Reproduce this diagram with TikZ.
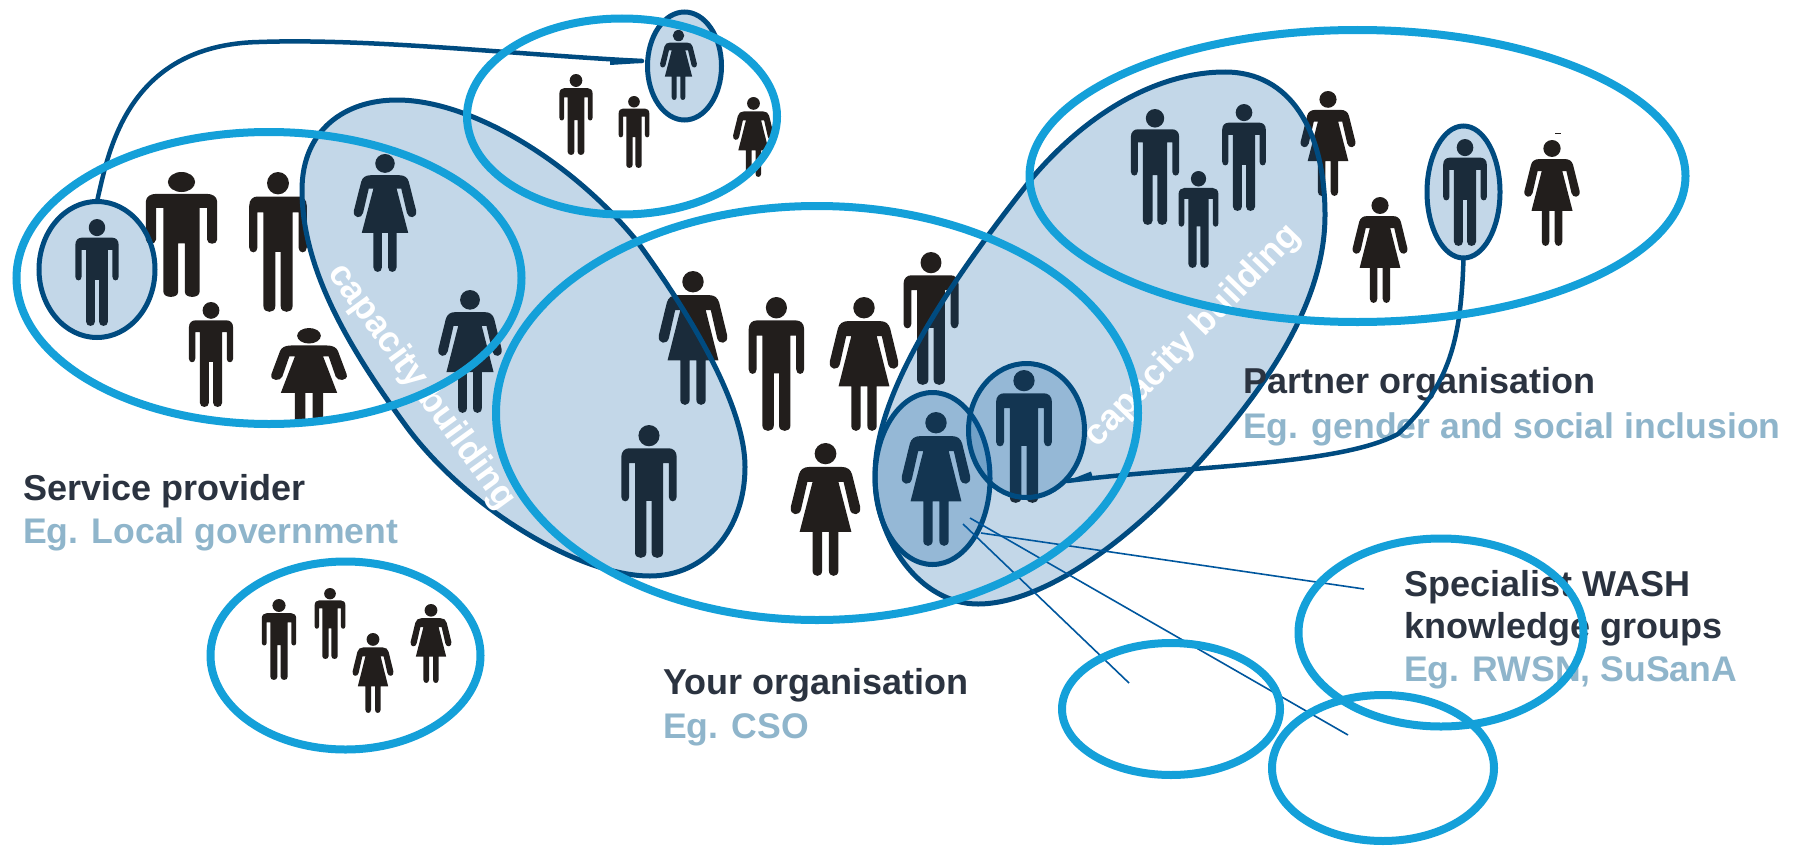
\documentclass[tikz,border=0pt]{standalone}
\usepackage{fontspec}
\setmainfont{Liberation Sans}
\usetikzlibrary{shapes.geometric}
\definecolor{ink}{HTML}{221E1C}
\definecolor{ringblue}{HTML}{14A0D9}
\definecolor{navy}{HTML}{004B80}
\definecolor{veil}{HTML}{00579E}
\definecolor{head}{HTML}{2B3340}
\definecolor{sub}{HTML}{8FB5CB}
\tikzset{
  ring/.style={ellipse,draw=ringblue,line width=8pt,inner sep=0pt,outer sep=0pt},
  groupring/.style={ellipse,draw=navy,line width=5pt,fill=veil,fill opacity=.235,inner sep=0pt,outer sep=0pt},
  blob/.style={draw=navy,line width=5pt,fill=veil,fill opacity=.235},
  link/.style={draw=navy,line width=4.5pt,line cap=round},
  thinlink/.style={draw=veil,line width=1.6pt},
  titletext/.style={anchor=base west,inner sep=0pt,font=\bfseries\fontsize{36}{36}\selectfont,text=head},
  exampletext/.style={anchor=base west,inner sep=0pt,font=\bfseries\fontsize{35.6}{36}\selectfont,text=sub},
  capword/.style={inner sep=0pt,font=\bfseries\fontsize{36}{36}\selectfont,text=white},
}
% #1 centre x, #2 top y, #3 height, #4 width scale
\newcommand{\manfig}[4]{%
\begin{scope}[shift={(#1,#2)},x=#4pt,y=-#3pt]
\fill[ink] (0,.08) ellipse (.08 and .08);
\fill[ink] (-.21,.54) .. controls (-.21,.585) and (-.15,.585) .. (-.15,.54) -- (-.15,.2875) -- (-.106,.2875)
 -- (-.106,.96) .. controls (-.106,1.012) and (-.02,1.012) .. (-.02,.96) -- (-.02,.57) -- (.02,.57)
 -- (.02,.96) .. controls (.02,1.012) and (.106,1.012) .. (.106,.96) -- (.106,.2875) -- (.15,.2875)
 -- (.15,.54) .. controls (.15,.585) and (.21,.585) .. (.21,.54) -- (.21,.24)
 .. controls (.21,.195) and (.18,.175) .. (.15,.175) -- (-.15,.175)
 .. controls (-.18,.175) and (-.21,.195) .. (-.21,.24) -- cycle;
\end{scope}}
\newcommand{\womanfig}[4]{%
\begin{scope}[shift={(#1,#2)},x=#4pt,y=-#3pt]
\fill[ink] (0,.08) ellipse (.08 and .08);
\fill[ink] (-.12,.18) -- (.12,.18) .. controls (.16,.18) and (.185,.2) .. (.195,.235) -- (.255,.48)
 .. controls (.265,.55) and (.19,.55) .. (.18,.5) -- (.133,.2925) -- (.095,.2925) -- (.19,.6675)
 -- (.095,.6675) -- (.095,.96) .. controls (.095,1.012) and (.025,1.012) .. (.025,.96) -- (.025,.6675)
 -- (-.025,.6675) -- (-.025,.96) .. controls (-.025,1.012) and (-.095,1.012) .. (-.095,.96) -- (-.095,.6675)
 -- (-.19,.6675) -- (-.095,.2925) -- (-.133,.2925) -- (-.18,.5) .. controls (-.19,.55) and (-.265,.55) .. (-.255,.48)
 -- (-.195,.235) .. controls (-.185,.2) and (-.16,.18) .. (-.12,.18) -- cycle;
\end{scope}}
\begin{document}
\begin{tikzpicture}[x=1pt,y=-1pt]
\useasboundingbox (0,0) rectangle (1806,851);
\fill[white] (0,0) rectangle (1806,851);
% people: service provider
\manfig{97}{219}{107}{103}
\manfig{181.5}{172}{125}{170}
\manfig{278}{172}{140}{137}
\manfig{211}{302}{105}{105}
\womanfig{309}{328}{97}{148}
\womanfig{385}{154}{118}{122}
\womanfig{470}{290}{123}{124}
% top group
\womanfig{678.5}{30}{70}{72}
\manfig{576}{74}{81}{79}
\manfig{634}{96}{72}{73}
\womanfig{753.5}{97}{80}{80}
% your organisation
\womanfig{693}{271}{134}{134}
\manfig{776.4}{297}{134}{132}
\womanfig{864}{297}{134}{134}
\manfig{931}{252}{133}{131}
\manfig{649}{425}{133}{132}
\womanfig{825.5}{443}{133}{136}
\womanfig{936}{412}{134}{134}
\manfig{1024}{370}{133}{133}
% partner
\manfig{1155}{109}{116}{115}
\manfig{1244}{104}{107}{104}
\manfig{1198.5}{171}{97}{95}
\womanfig{1328}{91}{105}{107}
\womanfig{1380}{197}{106}{107}
\manfig{1465}{139}{107}{104}
\womanfig{1552}{140}{106}{108}
\fill[ink] (1555,132.6) rectangle (1561,133.8);
% bottom-left group
\manfig{279}{599}{81}{82}
\manfig{330}{588}{71}{73}
\womanfig{373}{633}{80}{80}
\womanfig{431}{604}{79}{80}
% capacity-building blobs
\draw[blob] (397,100) .. controls (470,100) and (570,160) .. (636,240)
  .. controls (680,300) and (745,400) .. (745,467)
  .. controls (745,530) and (705,576) .. (650,576)
  .. controls (580,576) and (470,510) .. (409,430)
  .. controls (350,350) and (302,270) .. (302,190)
  .. controls (302,130) and (345,100) .. (397,100) -- cycle;
\draw[blob] (1225,72) .. controls (1290,72) and (1325,130) .. (1325,215)
  .. controls (1325,300) and (1270,385) .. (1191,471)
  .. controls (1125,545) and (1040,604) .. (978,604)
  .. controls (920,604) and (875,540) .. (875,475)
  .. controls (875,400) and (935,300) .. (1033,177)
  .. controls (1090,110) and (1160,72) .. (1225,72) -- cycle;
% small groups
\node[groupring,minimum width=116pt,minimum height=136pt] (smallA) at (97,269.5) {};
\node[groupring,minimum width=74pt,minimum height=108pt] (smallB) at (684.5,66) {};
\node[groupring,minimum width=73pt,minimum height=132pt] (smallC) at (1463.5,192) {};
\node[groupring,minimum width=115pt,minimum height=172pt] (smallD) at (932.5,478.5) {};
\node[groupring,minimum width=116pt,minimum height=134pt] (smallE) at (1026.5,430.5) {};
% free ends
\coordinate (tipB) at (642,61);
\coordinate (tipE) at (1067,481);
\coordinate (fanA) at (981,533);
\coordinate (fanB) at (970,518);
\coordinate (fanC) at (963,524);
\coordinate (endA) at (1364,589);
\coordinate (endB) at (1348,735);
\coordinate (endC) at (1129,683);
% captions
\node[capword,rotate=-54] (capL) at (421,387) {capacity building};
\node[capword,rotate=46] (capR) at (1193,336) {capacity building};
\node[titletext] (t1) at (23,500) {Service provider};
\node[exampletext] (e1) at (23,543) {Eg. Local government};
\node[titletext] (t2) at (663,694) {Your organisation};
\node[exampletext] (e2) at (663,738) {Eg. CSO};
\node[titletext] (t3) at (1243,393) {Partner organisation};
\node[exampletext] (e3) at (1243,438) {Eg. gender and social inclusion};
\node[titletext] (t4) at (1404,596) {Specialist WASH};
\node[titletext] (t5) at (1404,638) {knowledge groups};
\node[exampletext] (e4) at (1404,681) {Eg. RWSN, SuSanA};
% connectors
\draw[link] (smallA.north) .. controls (108,155) and (125,45) .. (259,42) .. controls (370,38) and (520,55) .. (tipB);
\fill[navy] (tipB) ++(0,-2) -- ++(-32,-1) -- ++(0,7) -- ++(32,-2) -- cycle;
\draw[link] (smallC.south) .. controls (1461,340) and (1450,385) .. (1398,434) .. controls (1340,465) and (1200,465) .. (tipE);
\fill[navy] (tipE) -- (1091,471.5) -- (1093,478) -- cycle;
\draw[thinlink] (fanA) -- (endA);
\draw[thinlink] (fanB) -- (endB);
\draw[thinlink] (fanC) -- (endC);
% rings
\node[ring,minimum width=505pt,minimum height=292pt] (serviceRing) at (269,278) {};
\node[ring,minimum width=310pt,minimum height=196pt] (topRing) at (622,116.5) {};
\node[ring,minimum width=642pt,minimum height=414pt] (ownRing) at (817,413) {};
\node[ring,minimum width=656pt,minimum height=292pt] (partnerRing) at (1357.5,176) {};
\node[ring,minimum width=270pt,minimum height=188pt] (lowRing) at (345.5,655.5) {};
\node[ring,minimum width=285pt,minimum height=188pt] (washRing) at (1441,632.5) {};
\node[ring,minimum width=218pt,minimum height=132pt] (extraA) at (1171,709) {};
\node[ring,minimum width=222pt,minimum height=146pt] (extraB) at (1383,768) {};
\end{tikzpicture}
\end{document}
